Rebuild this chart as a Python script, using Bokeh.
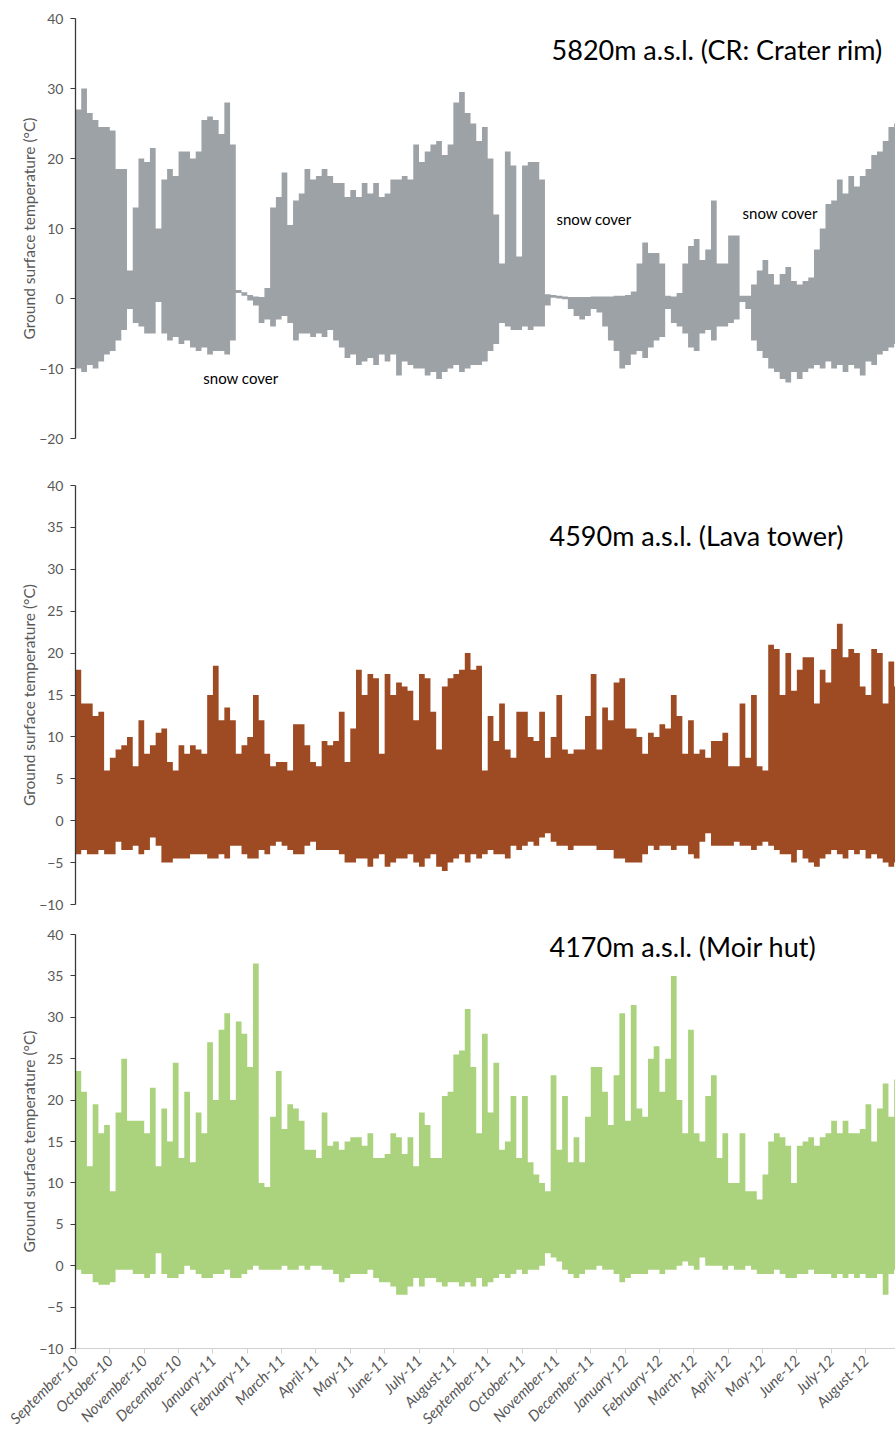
import math
from bokeh.plotting import figure
from bokeh.models import FixedTicker, Label, Range1d
from bokeh.layouts import column
from bokeh.embed import file_html
from bokeh.resources import INLINE

# ---------------- data (6 samples per month, Sep-2010 .. Aug-2012) -------------
month_labels = ["September-10", "October-10", "November-10", "December-10", "January-11", "February-11",
                "March-11", "April-11", "May-11", "June-11", "July-11", "August-11",
                "September-11", "October-11", "November-11", "December-11", "January-12", "February-12",
                "March-12", "April-12", "May-12", "June-12", "July-12", "August-12"]
samples_per_month = 6

# 5820 m a.s.l. (Crater rim): upper / lower envelope of ground surface temperature (deg C)
crater_max = [27, 30, 26.5, 25.5, 24.5, 24.5, 24, 18.5, 18.5, 4,
              13, 20, 19.5, 21.5, 10, 17, 18.5, 17.5, 21, 21,
              20, 21, 25.5, 26, 25.5, 23.5, 28, 22, 1.2, 0.9,
              0.5, 0.3, 0.2, 1.5, 13, 14.5, 18, 10.5, 14, 15,
              18.5, 17, 17.5, 18.5, 17.5, 16.5, 16.5, 14.5, 15.5, 14.5,
              16.5, 15, 16.5, 14.5, 15, 17, 17, 17.5, 17, 22,
              19.5, 21, 22, 22.5, 20.5, 22, 28, 29.5, 26.5, 25,
              22.5, 24.5, 20, 12, 5, 21, 19, 6, 19, 19.5,
              19.5, 17, 0.6, 0.5, 0.4, 0.3, 0.2, 0.2, 0.2, 0.2,
              0.3, 0.3, 0.3, 0.3, 0.4, 0.4, 0.5, 1, 5, 8,
              6.5, 6.5, 5, 0.4, 0.3, 0.8, 5, 7.5, 8.5, 5.5,
              7, 14, 5, 5, 9, 9, 0.4, 0.4, 2, 4,
              5.5, 3.5, 2, 3.5, 4.5, 2.5, 2, 2.5, 3, 7,
              10, 13.5, 14, 17, 15, 17.5, 16, 17.5, 18.5, 20.5,
              21, 22.5, 24.5, 25]
crater_min = [-10, -10.5, -9.5, -10, -9, -8, -7.5, -6, -4.5, -1.5,
              -3.5, -4, -5, -5, -0.5, -5, -6, -5.5, -6.5, -6,
              -7, -7.5, -7, -8, -7.5, -7.5, -8, -6, 0.8, 0.4,
              -0.3, -1, -3.5, -3, -4, -3, -2.5, -3.5, -6, -5,
              -5, -5.5, -5, -5.5, -4.5, -6, -7, -8.5, -8, -9.5,
              -9, -8.5, -9.5, -8, -9, -8, -11, -9, -9.5, -10,
              -10, -11, -10.5, -11.5, -10.5, -10, -9.5, -10.5, -10, -9.5,
              -9.5, -9, -7.5, -6.5, -3.5, -4, -4.5, -4.5, -4, -4.5,
              -4, -4, -1, 0.1, 0, -0.1, -1.5, -2.5, -3, -2.5,
              -1.5, -2, -4, -6, -7.5, -10, -9.5, -8, -7.5, -8.5,
              -7, -6, -5.5, -1.5, -3.5, -4, -5, -7, -7.5, -5,
              -4.5, -6, -4, -4, -3.5, -3, -0.5, -1.5, -6, -7.5,
              -8.5, -10, -10.5, -11.5, -12, -10.5, -11.5, -10.5, -10, -9.5,
              -10, -9, -10, -9.5, -10.5, -9.5, -10, -11, -9, -9.5,
              -8, -7.5, -7, -6.5]

# 4590 m a.s.l. (Lava tower)
lava_max = [18, 14, 14, 12.5, 13, 6, 7.5, 8.5, 9, 10,
            6.5, 12, 8, 9, 10.5, 11, 7, 6, 9, 8,
            9, 8.5, 8, 15, 18.5, 12, 13.5, 12, 8, 9,
            10, 15, 12, 8, 6.5, 7, 7, 6, 11.5, 11.5,
            9, 7, 6.5, 9.5, 9, 9.5, 13, 7, 11, 18,
            15, 17.5, 17, 8, 17.5, 15, 16.5, 16, 15.5, 12,
            17.5, 17, 13, 8.5, 16, 17, 17.5, 18, 20, 18,
            18.5, 6, 12.5, 9.5, 14, 8.5, 7.5, 13, 13, 10,
            9.5, 13, 7.5, 10, 15, 8.5, 8, 8.5, 8.5, 12.5,
            17.5, 8.5, 13.5, 12, 16.5, 17, 11, 11, 10, 8,
            10.5, 10, 11.5, 11, 15, 12.5, 8, 12, 8, 8.5,
            7.5, 9.5, 9.5, 10.5, 6.5, 6.5, 14, 7.5, 15, 6.5,
            6, 21, 20.5, 15, 20, 15.5, 18, 19.5, 19.5, 14,
            18, 16.5, 20.5, 23.5, 19.5, 20.5, 20, 16, 15, 20.5,
            20, 14, 19, 16]
lava_min = [-4, -3.5, -4, -4, -3.5, -4, -4, -2.5, -3.5, -3.5,
            -3, -4, -3.5, -2, -3, -5, -5, -4.5, -4.5, -4.5,
            -4, -4, -4, -4.5, -4.5, -4, -4.5, -3, -3, -4,
            -4.5, -4.5, -3.5, -4, -3, -2.5, -3, -3.5, -4, -4,
            -3, -2.5, -3.5, -3.5, -3.5, -3.5, -4, -5, -5, -4.5,
            -4.5, -5.5, -4.5, -4, -5.5, -5, -4.5, -4.5, -4, -5,
            -5.5, -4.5, -4, -5.5, -6, -5, -4.5, -4, -5, -4,
            -4.5, -4, -3.5, -4, -4, -4.5, -3, -3.5, -3, -2.5,
            -3, -2, -1.5, -2.5, -3, -3, -3.5, -3, -3, -3,
            -3, -3.5, -3.5, -3.5, -4.5, -4.5, -5, -5, -5, -4,
            -3, -3.5, -3, -3, -3.5, -3, -3, -4, -4.5, -2.5,
            -1.5, -3, -3, -3, -3, -2.5, -3, -3, -3.5, -3,
            -2.5, -3, -3.5, -4, -4, -5, -3.5, -4.5, -5, -5.5,
            -4.5, -4, -3.5, -4, -4.5, -3.5, -4, -3.5, -4.5, -4,
            -4.5, -5, -5.5, -5]

# 4170 m a.s.l. (Moir hut)
moir_max = [23.5, 21, 12, 19.5, 16, 17, 9, 18.5, 25, 17.5,
            17.5, 17.5, 16, 21.5, 12, 19, 15, 24.5, 13, 21,
            12.5, 18.5, 16, 27, 20, 28.5, 30.5, 20, 29.5, 28,
            24, 36.5, 10, 9.5, 18, 23.5, 16.5, 19.5, 19, 17.5,
            14, 14, 13, 18.5, 14.5, 15, 14, 15, 15.5, 15.5,
            14.5, 16, 13, 13, 13.5, 16, 15.5, 13.5, 15.5, 12,
            18.5, 17, 13, 13, 20.5, 21, 25.5, 26, 31, 24,
            16, 28, 18.5, 24.5, 14, 15, 20.5, 13, 20.5, 12.5,
            11, 10, 9, 23, 14, 20.5, 12.5, 15.5, 12.5, 18,
            24, 24, 21, 17, 23, 30.5, 17.5, 31.5, 19, 18,
            25, 26.5, 21, 25, 35, 20, 16, 28.5, 16, 15,
            20.5, 23, 13, 16, 10, 10, 16, 9, 9, 8,
            11, 15, 16, 15.5, 14.5, 10, 14.5, 15, 15.5, 14.5,
            15.5, 16, 17.5, 16, 17.5, 16, 16, 16.5, 19.5, 15,
            19, 22, 18, 22.5]
moir_min = [-0.5, -1, -1, -2, -2.3, -2.3, -2, -0.5, -0.5, -0.5,
            -1, -1, -1.5, -1, 1.5, -1, -1.5, -1.5, -1, 0,
            -0.5, -1, -1.5, -1.5, -1, -1, -0.5, -1.5, -1.5, -1,
            -0.5, 0, -0.5, -0.5, -0.5, -0.5, 0, -0.5, -0.5, 0,
            -0.5, 0, 0, -0.5, -0.5, -1, -2, -1.5, -1, -1,
            -1, -0.5, -1.5, -2, -2, -2.5, -3.5, -3.5, -2.5, -1.5,
            -2.5, -1.5, -1.5, -2, -2.5, -2, -2, -2.5, -2, -2.5,
            -1.5, -2.5, -2, -1.5, -1, -1.5, -1, -0.5, -1, -0.5,
            -0.5, 0, 1.5, 1, 0.5, -0.5, -1, -1.5, -1, -0.5,
            -0.5, 0, -0.5, -0.5, -1, -2, -1.5, -1, -1, -1,
            -0.5, -0.5, -1, -0.5, -0.5, 0, 0.5, 0, -0.5, 1,
            0, 0, 0, -0.5, 0, -0.5, -0.5, 0, -0.5, -1,
            -1, -1, -0.5, -1, -1.5, -1.5, -1, -1, -0.5, -1,
            -1, -1, -1.5, -1, -1.5, -1, -1.5, -1, -1.5, -1.5,
            -1, -3.5, -1, -0.5]

# ---------------- styling / layout -------------
FONT = "Lato"
FIG_W = 895
BORDER_LEFT = 75
PX_PER_MONTH = 34.35
X_END = (FIG_W - BORDER_LEFT) / PX_PER_MONTH
TICK_GRAY = "#595959"
AXIS_DARK = "#3a3a3a"


def make_panel(vmax, vmin, color, y0, y1, step, height, border_top, border_bottom, show_x):
    p = figure(width=FIG_W, height=height,
               x_range=Range1d(0, X_END), y_range=Range1d(y0, y1),
               output_backend="svg", toolbar_location=None,
               min_border_left=BORDER_LEFT, min_border_right=0,
               min_border_top=border_top, min_border_bottom=border_bottom)
    n = len(vmax)
    xs = [i / samples_per_month for i in range(n + 1)]
    p.varea_step(x=xs, y1=list(vmin) + [vmin[-1]], y2=list(vmax) + [vmax[-1]],
                 step_mode="after", fill_color=color)

    p.xgrid.visible = False
    p.ygrid.visible = False
    p.outline_line_color = None
    p.background_fill_color = "white"
    p.border_fill_color = "white"

    ya = p.yaxis[0]
    ya.ticker = FixedTicker(ticks=list(range(y0, y1 + 1, step)))
    ya.axis_label = "Ground surface temperature (°C)"
    ya.axis_label_text_font = FONT
    ya.axis_label_text_font_size = "15.5px"
    ya.axis_label_text_font_style = "normal"
    ya.axis_label_text_color = TICK_GRAY
    ya.axis_label_standoff = -2
    ya.major_label_text_font = FONT
    ya.major_label_text_font_size = "14px"
    ya.major_label_text_color = TICK_GRAY
    ya.major_label_standoff = 7
    ya.axis_line_color = AXIS_DARK
    ya.axis_line_width = 1.3
    ya.major_tick_line_color = AXIS_DARK
    ya.major_tick_out = 5
    ya.major_tick_in = 0
    ya.minor_tick_out = 0
    ya.minor_tick_in = 0

    xa = p.xaxis[0]
    if show_x:
        xa.ticker = FixedTicker(ticks=list(range(len(month_labels))))
        xa.major_label_overrides = {i: m for i, m in enumerate(month_labels)}
        xa.major_label_orientation = math.pi / 4
        xa.major_label_text_font = FONT
        xa.major_label_text_font_size = "15px"
        xa.major_label_text_font_style = "italic"
        xa.major_label_text_color = TICK_GRAY
        xa.major_label_standoff = 4
        xa.axis_line_color = "#d0d0d0"
        xa.axis_line_width = 1.2
        xa.major_tick_line_color = "#d0d0d0"
        xa.major_tick_out = 5
        xa.major_tick_in = 0
        xa.minor_tick_out = 0
        xa.minor_tick_in = 0
    else:
        xa.visible = False
    return p


def add_text(p, x, y, text, size):
    p.add_layout(Label(x=x, y=y, text=text, text_font=FONT, text_font_size=size,
                       text_color="black", text_baseline="middle", text_align="left"))


p1 = make_panel(crater_max, crater_min, "#9da2a7", -20, 40, 10, 475, 18, 37, False)
add_text(p1, 13.86, 35.6, "5820m a.s.l. (CR: Crater rim)", "27px")
add_text(p1, 3.72, -11.3, "snow cover", "15px")
add_text(p1, 14.0, 11.4, "snow cover", "15px")
add_text(p1, 19.42, 12.25, "snow cover", "15px")

p2 = make_panel(lava_max, lava_min, "#9e4a22", -10, 40, 5, 449, 10, 20, False)
add_text(p2, 13.8, 34.05, "4590m a.s.l. (Lava tower)", "27px")

p3 = make_panel(moir_max, moir_min, "#abd27d", -10, 40, 5, 516, 10, 92, True)
add_text(p3, 13.8, 38.5, "4170m a.s.l. (Moir hut)", "27px")

layout = column(p1, p2, p3, spacing=0)
open("out.html", "w").write(file_html(layout, INLINE))
